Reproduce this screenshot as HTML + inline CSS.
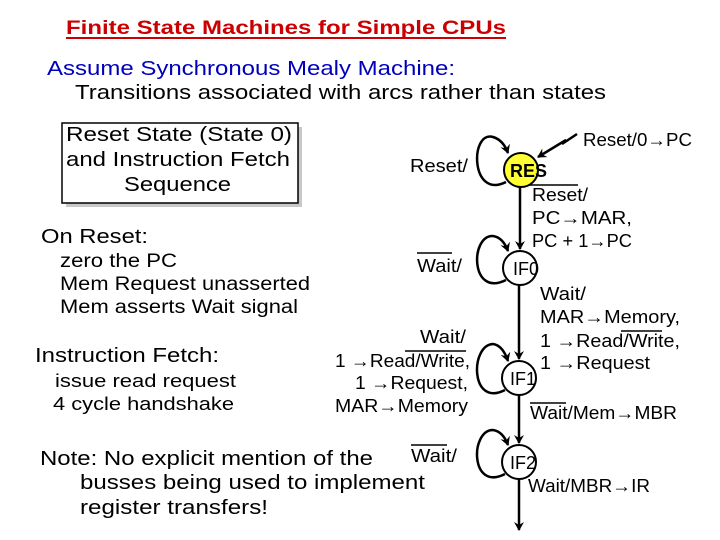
<!DOCTYPE html>
<html><head><meta charset="utf-8"><style>
html,body{margin:0;padding:0;background:#fff;width:720px;height:540px;overflow:hidden}
svg{display:block}
text{font-family:"Liberation Sans",Arial,sans-serif}
</style></head><body>
<svg width="720" height="540" viewBox="0 0 720 540" xmlns="http://www.w3.org/2000/svg">
<defs>
<marker id="ah" markerWidth="10" markerHeight="10" refX="8" refY="5" orient="auto" markerUnits="userSpaceOnUse">
<path d="M0,0 L9,5 L0,10 L3,5 Z" fill="#000"/></marker>
</defs>
<text x="66" y="34" font-size="19" font-weight="bold" fill="#cc0000" textLength="440" lengthAdjust="spacingAndGlyphs">Finite State Machines for Simple CPUs</text>
<rect x="66" y="37" width="440" height="2" fill="#cc0000"/>
<text x="47" y="75" font-size="20" fill="#0000bb" textLength="408" lengthAdjust="spacingAndGlyphs">Assume Synchronous Mealy Machine:</text>
<text x="75" y="99" font-size="20" fill="#000" textLength="531" lengthAdjust="spacingAndGlyphs">Transitions associated with arcs rather than states</text>
<rect x="66" y="127" width="236" height="80" fill="#c8c8c8"/>
<rect x="62" y="123" width="236" height="80" fill="#fff" stroke="#000" stroke-width="1.5"/>
<g font-size="20">
<text x="66" y="141" textLength="226" lengthAdjust="spacingAndGlyphs">Reset State (State 0)</text>
<text x="66" y="166" textLength="224" lengthAdjust="spacingAndGlyphs">and Instruction Fetch</text>
<text x="124" y="191" textLength="107" lengthAdjust="spacingAndGlyphs">Sequence</text>
</g>
<text x="41" y="243" font-size="20" textLength="107" lengthAdjust="spacingAndGlyphs">On Reset:</text>
<g font-size="19">
<text x="60" y="267" textLength="117" lengthAdjust="spacingAndGlyphs">zero the PC</text>
<text x="60" y="290" textLength="250" lengthAdjust="spacingAndGlyphs">Mem Request unasserted</text>
<text x="60" y="313" textLength="238" lengthAdjust="spacingAndGlyphs">Mem asserts Wait signal</text>
</g>
<text x="35" y="362" font-size="20" textLength="184" lengthAdjust="spacingAndGlyphs">Instruction Fetch:</text>
<g font-size="18">
<text x="55" y="387" textLength="181" lengthAdjust="spacingAndGlyphs">issue read request</text>
<text x="53" y="410" textLength="181" lengthAdjust="spacingAndGlyphs">4 cycle handshake</text>
</g>
<g font-size="20">
<text x="40" y="465" textLength="333" lengthAdjust="spacingAndGlyphs">Note: No explicit mention of the</text>
<text x="80" y="489" textLength="345" lengthAdjust="spacingAndGlyphs">busses being used to implement</text>
<text x="80" y="514" textLength="188" lengthAdjust="spacingAndGlyphs">register transfers!</text>
</g>
<g font-size="18">
<text x="410" y="172" textLength="58" lengthAdjust="spacingAndGlyphs">Reset/</text>
<text x="417" y="272" textLength="45" lengthAdjust="spacingAndGlyphs">Wait/</text>
<line x1="417" y1="253" x2="452" y2="253" stroke="#000" stroke-width="1.5"/>
<text x="420" y="343" textLength="46" lengthAdjust="spacingAndGlyphs">Wait/</text>
<text x="335" y="367" textLength="135" lengthAdjust="spacingAndGlyphs">1 →Read/Write,</text>
<line x1="405" y1="351" x2="466" y2="351" stroke="#000" stroke-width="1.5"/>
<text x="355" y="389" textLength="113" lengthAdjust="spacingAndGlyphs">1 →Request,</text>
<text x="335" y="412" textLength="133" lengthAdjust="spacingAndGlyphs">MAR→Memory</text>
<text x="411" y="462" textLength="46" lengthAdjust="spacingAndGlyphs">Wait/</text>
<line x1="411" y1="445" x2="447" y2="445" stroke="#000" stroke-width="1.5"/>
</g>
<g font-size="18">
<text x="583" y="146" textLength="109" lengthAdjust="spacingAndGlyphs">Reset/0→PC</text>
<text x="532" y="201" textLength="56" lengthAdjust="spacingAndGlyphs">Reset/</text>
<line x1="521" y1="185" x2="578" y2="185" stroke="#000" stroke-width="1.5"/>
<text x="532" y="224" textLength="100" lengthAdjust="spacingAndGlyphs">PC→MAR,</text>
<text x="532" y="247" textLength="100" lengthAdjust="spacingAndGlyphs">PC + 1→PC</text>
<text x="540" y="300" textLength="46" lengthAdjust="spacingAndGlyphs">Wait/</text>
<text x="540" y="323" textLength="140" lengthAdjust="spacingAndGlyphs">MAR→Memory,</text>
<text x="540" y="347" textLength="140" lengthAdjust="spacingAndGlyphs">1 →Read/Write,</text>
<line x1="621" y1="331" x2="662" y2="331" stroke="#000" stroke-width="1.5"/>
<text x="540" y="369" textLength="110" lengthAdjust="spacingAndGlyphs">1 →Request</text>
<text x="530" y="419" textLength="147" lengthAdjust="spacingAndGlyphs">Wait/Mem→MBR</text>
<line x1="530" y1="403" x2="566" y2="403" stroke="#000" stroke-width="1.5"/>
<text x="528" y="492" textLength="122" lengthAdjust="spacingAndGlyphs">Wait/MBR→IR</text>
</g>
<g stroke="#000" stroke-width="2.5" fill="none">
<line x1="520" y1="187" x2="520" y2="249" marker-end="url(#ah)"/>
<line x1="519" y1="285" x2="519" y2="359" marker-end="url(#ah)"/>
<line x1="519" y1="395" x2="519" y2="443" marker-end="url(#ah)"/>
<line x1="519" y1="479" x2="519" y2="530" marker-end="url(#ah)"/>
<polyline points="577,134 562,144 566,140 538,157" marker-end="url(#ah)"/>
<path d="M506,182 C470,200 470,130 493,137 C500,139 505,145 508,153" marker-end="url(#ah)"/>
<path d="M506,280 C470,298 470,235 493,236 C500,237 505,243 508,251" marker-end="url(#ah)"/>
<path d="M505,390 C470,408 470,345 493,344 C500,345 505,352 508,361" marker-end="url(#ah)"/>
<path d="M505,474 C470,492 470,430 493,430 C500,431 505,437 508,445" marker-end="url(#ah)"/>
</g>
<circle cx="521" cy="170" r="17" fill="#ffff33" stroke="#000" stroke-width="2"/>
<text x="510" y="177" font-size="18" font-weight="bold">RES</text>
<circle cx="520" cy="268" r="17" fill="#fff" stroke="#000" stroke-width="2"/>
<text x="513" y="275" font-size="18">IF0</text>
<circle cx="519" cy="378" r="17" fill="#fff" stroke="#000" stroke-width="2"/>
<text x="510" y="385" font-size="18">IF1</text>
<circle cx="519" cy="462" r="17" fill="#fff" stroke="#000" stroke-width="2"/>
<text x="510" y="469" font-size="18">IF2</text>
</svg>
</body></html>
